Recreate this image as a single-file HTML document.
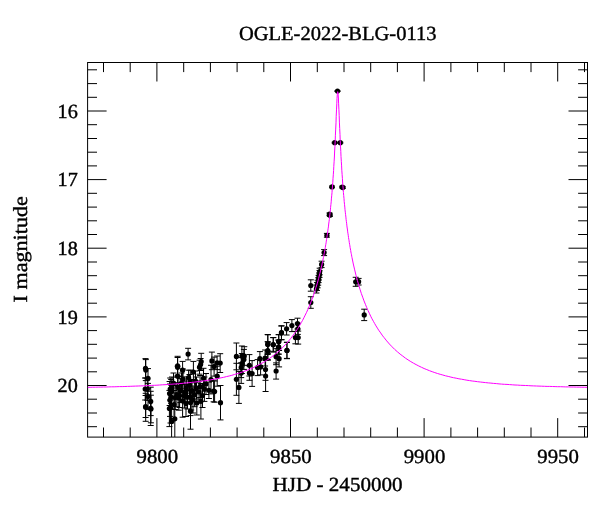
<!DOCTYPE html>
<html><head><meta charset="utf-8"><title>OGLE-2022-BLG-0113</title>
<style>html,body{margin:0;padding:0;background:#fff}svg{display:block;will-change:transform}text{text-rendering:geometricPrecision}</style></head>
<body>
<svg width="600" height="512" viewBox="0 0 600 512">
<rect width="600" height="512" fill="#fff"/>
<defs><clipPath id="c"><rect x="87.6" y="62.5" width="499.9" height="374.6"/></clipPath></defs>
<path d="M103.5 437.1v-9.6M103.5 62.5v9.6M130.2 437.1v-9.6M130.2 62.5v9.6M156.9 437.1v-19M156.9 62.5v19M183.7 437.1v-9.6M183.7 62.5v9.6M210.4 437.1v-9.6M210.4 62.5v9.6M237.1 437.1v-9.6M237.1 62.5v9.6M263.8 437.1v-9.6M263.8 62.5v9.6M290.5 437.1v-19M290.5 62.5v19M317.3 437.1v-9.6M317.3 62.5v9.6M344 437.1v-9.6M344 62.5v9.6M370.7 437.1v-9.6M370.7 62.5v9.6M397.4 437.1v-9.6M397.4 62.5v9.6M424.1 437.1v-19M424.1 62.5v19M450.9 437.1v-9.6M450.9 62.5v9.6M477.6 437.1v-9.6M477.6 62.5v9.6M504.3 437.1v-9.6M504.3 62.5v9.6M531 437.1v-9.6M531 62.5v9.6M557.7 437.1v-19M557.7 62.5v19M584.5 437.1v-9.6M584.5 62.5v9.6M87.6 69.8h9.4M587.5 69.8h-9.4M87.6 83.6h9.4M587.5 83.6h-9.4M87.6 97.3h9.4M587.5 97.3h-9.4M87.6 111h19M587.5 111h-19M87.6 124.7h9.4M587.5 124.7h-9.4M87.6 138.5h9.4M587.5 138.5h-9.4M87.6 152.2h9.4M587.5 152.2h-9.4M87.6 165.9h9.4M587.5 165.9h-9.4M87.6 179.6h19M587.5 179.6h-19M87.6 193.3h9.4M587.5 193.3h-9.4M87.6 207.1h9.4M587.5 207.1h-9.4M87.6 220.8h9.4M587.5 220.8h-9.4M87.6 234.5h9.4M587.5 234.5h-9.4M87.6 248.2h19M587.5 248.2h-19M87.6 262h9.4M587.5 262h-9.4M87.6 275.7h9.4M587.5 275.7h-9.4M87.6 289.4h9.4M587.5 289.4h-9.4M87.6 303.2h9.4M587.5 303.2h-9.4M87.6 316.9h19M587.5 316.9h-19M87.6 330.6h9.4M587.5 330.6h-9.4M87.6 344.3h9.4M587.5 344.3h-9.4M87.6 358.1h9.4M587.5 358.1h-9.4M87.6 371.8h9.4M587.5 371.8h-9.4M87.6 385.5h19M587.5 385.5h-19M87.6 399.2h9.4M587.5 399.2h-9.4M87.6 413h9.4M587.5 413h-9.4M87.6 426.7h9.4M587.5 426.7h-9.4" stroke="#000" stroke-width="1" fill="none"/>
<rect x="87.6" y="62.5" width="499.9" height="374.6" fill="none" stroke="#000" stroke-width="1"/>
<g clip-path="url(#c)"><path d="M145.5 358.6V378M142.5 358.6h6M142.5 378h6M145.8 359.6V380.6M142.8 359.6h6M142.8 380.6h6M148 368.6V388.2M145 368.6h6M145 388.2h6M145.2 378V400M142.2 378h6M142.2 400h6M147.3 378.3V400.3M144.3 378.3h6M144.3 400.3h6M148 383.4V409.4M145 383.4h6M145 409.4h6M150.7 387.2V415.6M147.7 387.2h6M147.7 415.6h6M145.6 395.5V417.5M142.6 395.5h6M142.6 417.5h6M145.7 393.3V421.3M142.7 393.3h6M142.7 421.3h6M150.7 391.3V425.5M147.7 391.3h6M147.7 425.5h6M150.9 395.2V422.8M147.9 395.2h6M147.9 422.8h6M188.1 348.3V359.9M185.1 348.3h6M185.1 359.9h6M177.6 356.3V375.3M174.6 356.3h6M174.6 375.3h6M177.6 357.5V377.1M174.6 357.5h6M174.6 377.1h6M182.6 361.4V379M179.6 361.4h6M179.6 379h6M201.2 353.3V369.9M198.2 353.3h6M198.2 369.9h6M200.6 358.5V370.5M197.6 358.5h6M197.6 370.5h6M199.5 360.2V374.2M196.5 360.2h6M196.5 374.2h6M193.4 361.4V382.6M190.4 361.4h6M190.4 382.6h6M211.9 352.1V369.7M208.9 352.1h6M208.9 369.7h6M220.2 353.7V372.5M217.2 353.7h6M217.2 372.5h6M217.1 356V369.6M214.1 356h6M214.1 369.6h6M214.1 357.1V376.1M211.1 357.1h6M211.1 376.1h6M217.2 366.2V386.2M214.2 366.2h6M214.2 386.2h6M177.6 366.2V386.2M174.6 366.2h6M174.6 386.2h6M188.6 370.2V385M185.6 370.2h6M185.6 385h6M190.3 370.2V391.8M187.3 370.2h6M187.3 391.8h6M203.5 368.3V388.3M200.5 368.3h6M200.5 388.3h6M211 365.3V393.9M208 365.3h6M208 393.9h6M170.2 378V400M167.2 378h6M167.2 400h6M171.2 379.5V403.5M168.2 379.5h6M168.2 403.5h6M169.6 381.5V405.5M166.6 381.5h6M166.6 405.5h6M172 377V399M169 377h6M169 399h6M214.6 381V402.2M211.6 381h6M211.6 402.2h6M208.9 382.1V398.5M205.9 382.1h6M205.9 398.5h6M220.5 385.5V419.9M217.5 385.5h6M217.5 419.9h6M170 384V416.4M167 384h6M167 416.4h6M170.5 392.6V423M167.5 392.6h6M167.5 423h6M169.4 390.4V426.6M166.4 390.4h6M166.4 426.6h6M194.6 382.7V406.7M191.6 382.7h6M191.6 406.7h6M182.6 384.4V417.2M179.6 384.4h6M179.6 417.2h6M200.9 383.4V419M197.9 383.4h6M197.9 419h6M176.9 382.7V406.7M173.9 382.7h6M173.9 406.7h6M190.5 389.6V415.6M187.5 389.6h6M187.5 415.6h6M200.1 375.5V397.5M197.1 375.5h6M197.1 397.5h6M186.4 376.9V398.9M183.4 376.9h6M183.4 398.9h6M180.3 378.6V402.6M177.3 378.6h6M177.3 402.6h6M204.4 377V401.4M201.4 377h6M201.4 401.4h6M190.5 393.2V429.2M187.5 393.2h6M187.5 429.2h6M174.8 396.8V440.8M171.8 396.8h6M171.8 440.8h6M171.6 397.5V445.5M168.6 397.5h6M168.6 445.5h6M213.6 380.2V401.8M210.6 380.2h6M210.6 401.8h6M179.6 383.5V407.5M176.6 383.5h6M176.6 407.5h6M191.2 386V410M188.2 386h6M188.2 410h6M184.4 384V408M181.4 384h6M181.4 408h6M173.5 373V393M170.5 373h6M170.5 393h6M175.2 385.5V409.5M172.2 385.5h6M172.2 409.5h6M178.8 385.8V410.2M175.8 385.8h6M175.8 410.2h6M181.5 373V393M178.5 373h6M178.5 393h6M185 381V403M182 381h6M182 403h6M187.5 385V409M184.5 385h6M184.5 409h6M189.5 374.5V395.5M186.5 374.5h6M186.5 395.5h6M192 379.5V401.5M189 379.5h6M189 401.5h6M196.5 377V399M193.5 377h6M193.5 399h6M196.8 391V415M193.8 391h6M193.8 415h6M195.5 371V391M192.5 371h6M192.5 391h6M206 373.5V394.5M203 373.5h6M203 394.5h6M199 381V403M196 381h6M196 403h6M202.5 383.5V407.5M199.5 383.5h6M199.5 407.5h6M183 369V389M180 369h6M180 389h6M174 390.5V418.5M171 390.5h6M171 418.5h6M186 390.5V416.5M183 390.5h6M183 416.5h6M193 387V413M190 387h6M190 413h6M171 385V409M168 385h6M168 409h6M178 376.5V398.5M175 376.5h6M175 398.5h6M236.4 343V369.8M233.4 343h6M233.4 369.8h6M241.9 346V366M238.9 346h6M238.9 366h6M244.3 346.7V365.3M241.3 346.7h6M241.3 365.3h6M243.9 349.4V369.4M240.9 349.4h6M240.9 369.4h6M241.9 353.5V373.5M238.9 353.5h6M238.9 373.5h6M241.2 357.6V377.6M238.2 357.6h6M238.2 377.6h6M241.2 362.8V383.4M238.2 362.8h6M238.2 383.4h6M236.4 363.3V395.3M233.4 363.3h6M233.4 395.3h6M238.9 371.4V403.4M235.9 371.4h6M235.9 403.4h6M249.4 354.6V376M246.4 354.6h6M246.4 376h6M249.4 365.9V380.3M246.4 365.9h6M246.4 380.3h6M252.1 360.6V386.4M249.1 360.6h6M249.1 386.4h6M259.9 351.6V365.8M256.9 351.6h6M256.9 365.8h6M257.6 359.6V375.6M254.6 359.6h6M254.6 375.6h6M260.6 358.9V374.9M257.6 358.9h6M257.6 374.9h6M265.1 350V366M262.1 350h6M262.1 366h6M265.5 358.9V380.3M262.5 358.9h6M262.5 380.3h6M265.6 360.5V391.5M262.6 360.5h6M262.6 391.5h6M267.9 334.8V353.4M264.9 334.8h6M264.9 353.4h6M267.9 342.2V360.2M264.9 342.2h6M264.9 360.2h6M273.3 337.5V352.1M270.3 337.5h6M270.3 352.1h6M278.8 334.6V348.6M275.8 334.6h6M275.8 348.6h6M278.5 340.1V354.1M275.5 340.1h6M275.5 354.1h6M281.5 325.7V339.7M278.5 325.7h6M278.5 339.7h6M276.1 348.7V364.7M273.1 348.7h6M273.1 364.7h6M279.1 350.5V366.9M276.1 350.5h6M276.1 366.9h6M276.1 362.9V379.1M273.1 362.9h6M273.1 379.1h6M287 342.3V358.7M284 342.3h6M284 358.7h6M310.8 296.7V308.3M307.8 296.7h6M307.8 308.3h6M310.8 279.8V291.2M307.8 279.8h6M307.8 291.2h6M297.5 318.2V329M294.5 318.2h6M294.5 329h6M297.8 323.2V334.4M294.8 323.2h6M294.8 334.4h6M291.9 319.6V331.6M288.9 319.6h6M288.9 331.6h6M286.6 322.6V335M283.6 322.6h6M283.6 335h6M281.4 326.1V339.7M278.4 326.1h6M278.4 339.7h6M295.4 331.4V343.8M292.4 331.4h6M292.4 343.8h6M298.2 331.1V344.1M295.2 331.1h6M295.2 344.1h6M278.7 334.7V348.7M275.7 334.7h6M275.7 348.7h6M273.2 337.7V351.3M270.2 337.7h6M270.2 351.3h6M267.7 334.5V354.5M264.7 334.5h6M264.7 354.5h6M278.7 340.2V354.2M275.7 340.2h6M275.7 354.2h6M267.7 341.6V359.6M264.7 341.6h6M264.7 359.6h6M286.9 342.4V358.4M283.9 342.4h6M283.9 358.4h6M326.9 233.4V237.2M323.9 233.4h6M323.9 237.2h6M324.1 249.6V255.6M321.1 249.6h6M321.1 255.6h6M321.6 261.2V267.6M318.6 261.2h6M318.6 267.6h6M319.7 268.2V274.8M316.7 268.2h6M316.7 274.8h6M319.5 270.6V277.4M316.5 270.6h6M316.5 277.4h6M319 273V280M316 273h6M316 280h6M318.6 275.4V282.6M315.6 275.4h6M315.6 282.6h6M318.2 277.8V285.2M315.2 277.8h6M315.2 285.2h6M317.6 280.2V287.8M314.6 280.2h6M314.6 287.8h6M317 282.6V290.4M314 282.6h6M314 290.4h6M316.4 285V293M313.4 285h6M313.4 293h6M329.5 213V215.4M326.5 213h6M326.5 215.4h6M329.9 214V216.4M326.9 214h6M326.9 216.4h6M332 186.1V187.7M329 186.1h6M329 187.7h6M342.2 186.2V187.8M339.2 186.2h6M339.2 187.8h6M342.8 186.8V188.4M339.8 186.8h6M339.8 188.4h6M334.7 142.2V143.2M331.7 142.2h6M331.7 143.2h6M340.3 142.2V143.2M337.3 142.2h6M337.3 143.2h6M337.5 90.7V91.5M334.5 90.7h6M334.5 91.5h6M355.7 277.3V286.3M352.7 277.3h6M352.7 286.3h6M358.6 278.4V285M355.6 278.4h6M355.6 285h6M364.2 309.2V320.6M361.2 309.2h6M361.2 320.6h6" stroke="#000" stroke-width="1" fill="none"/>
<g fill="#000"><circle cx="145.5" cy="368.3" r="2.6"/><circle cx="145.8" cy="370.1" r="2.6"/><circle cx="148" cy="378.4" r="2.6"/><circle cx="145.2" cy="389" r="2.6"/><circle cx="147.3" cy="389.3" r="2.6"/><circle cx="148" cy="396.4" r="2.6"/><circle cx="150.7" cy="401.4" r="2.6"/><circle cx="145.6" cy="406.5" r="2.6"/><circle cx="145.7" cy="407.3" r="2.6"/><circle cx="150.7" cy="408.4" r="2.6"/><circle cx="150.9" cy="409" r="2.6"/><circle cx="188.1" cy="354.1" r="2.6"/><circle cx="177.6" cy="365.8" r="2.6"/><circle cx="177.6" cy="367.3" r="2.6"/><circle cx="182.6" cy="370.2" r="2.6"/><circle cx="201.2" cy="361.6" r="2.6"/><circle cx="200.6" cy="364.5" r="2.6"/><circle cx="199.5" cy="367.2" r="2.6"/><circle cx="193.4" cy="372" r="2.6"/><circle cx="211.9" cy="360.9" r="2.6"/><circle cx="220.2" cy="363.1" r="2.6"/><circle cx="217.1" cy="362.8" r="2.6"/><circle cx="214.1" cy="366.6" r="2.6"/><circle cx="217.2" cy="376.2" r="2.6"/><circle cx="177.6" cy="376.2" r="2.6"/><circle cx="188.6" cy="377.6" r="2.6"/><circle cx="190.3" cy="381" r="2.6"/><circle cx="203.5" cy="378.3" r="2.6"/><circle cx="211" cy="379.6" r="2.6"/><circle cx="170.2" cy="389" r="2.6"/><circle cx="171.2" cy="391.5" r="2.6"/><circle cx="169.6" cy="393.5" r="2.6"/><circle cx="172" cy="388" r="2.6"/><circle cx="214.6" cy="391.6" r="2.6"/><circle cx="208.9" cy="390.3" r="2.6"/><circle cx="220.5" cy="402.7" r="2.6"/><circle cx="170" cy="400.2" r="2.6"/><circle cx="170.5" cy="407.8" r="2.6"/><circle cx="169.4" cy="408.5" r="2.6"/><circle cx="194.6" cy="394.7" r="2.6"/><circle cx="182.6" cy="400.8" r="2.6"/><circle cx="200.9" cy="401.2" r="2.6"/><circle cx="176.9" cy="394.7" r="2.6"/><circle cx="190.5" cy="402.6" r="2.6"/><circle cx="200.1" cy="386.5" r="2.6"/><circle cx="186.4" cy="387.9" r="2.6"/><circle cx="180.3" cy="390.6" r="2.6"/><circle cx="204.4" cy="389.2" r="2.6"/><circle cx="190.5" cy="411.2" r="2.6"/><circle cx="174.8" cy="418.8" r="2.6"/><circle cx="171.6" cy="421.5" r="2.6"/><circle cx="213.6" cy="391" r="2.6"/><circle cx="179.6" cy="395.5" r="2.6"/><circle cx="191.2" cy="398" r="2.6"/><circle cx="184.4" cy="396" r="2.6"/><circle cx="173.5" cy="383" r="2.6"/><circle cx="175.2" cy="397.5" r="2.6"/><circle cx="178.8" cy="398" r="2.6"/><circle cx="181.5" cy="383" r="2.6"/><circle cx="185" cy="392" r="2.6"/><circle cx="187.5" cy="397" r="2.6"/><circle cx="189.5" cy="385" r="2.6"/><circle cx="192" cy="390.5" r="2.6"/><circle cx="196.5" cy="388" r="2.6"/><circle cx="196.8" cy="403" r="2.6"/><circle cx="195.5" cy="381" r="2.6"/><circle cx="206" cy="384" r="2.6"/><circle cx="199" cy="392" r="2.6"/><circle cx="202.5" cy="395.5" r="2.6"/><circle cx="183" cy="379" r="2.6"/><circle cx="174" cy="404.5" r="2.6"/><circle cx="186" cy="403.5" r="2.6"/><circle cx="193" cy="400" r="2.6"/><circle cx="171" cy="397" r="2.6"/><circle cx="178" cy="387.5" r="2.6"/><circle cx="236.4" cy="356.4" r="2.6"/><circle cx="241.9" cy="356" r="2.6"/><circle cx="244.3" cy="356" r="2.6"/><circle cx="243.9" cy="359.4" r="2.6"/><circle cx="241.9" cy="363.5" r="2.6"/><circle cx="241.2" cy="367.6" r="2.6"/><circle cx="241.2" cy="373.1" r="2.6"/><circle cx="236.4" cy="379.3" r="2.6"/><circle cx="238.9" cy="387.4" r="2.6"/><circle cx="249.4" cy="365.3" r="2.6"/><circle cx="249.4" cy="373.1" r="2.6"/><circle cx="252.1" cy="373.5" r="2.6"/><circle cx="259.9" cy="358.7" r="2.6"/><circle cx="257.6" cy="367.6" r="2.6"/><circle cx="260.6" cy="366.9" r="2.6"/><circle cx="265.1" cy="358" r="2.6"/><circle cx="265.5" cy="369.6" r="2.6"/><circle cx="265.6" cy="376" r="2.6"/><circle cx="267.9" cy="344.1" r="2.6"/><circle cx="267.9" cy="351.2" r="2.6"/><circle cx="273.3" cy="344.8" r="2.6"/><circle cx="278.8" cy="341.6" r="2.6"/><circle cx="278.5" cy="347.1" r="2.6"/><circle cx="281.5" cy="332.7" r="2.6"/><circle cx="276.1" cy="356.7" r="2.6"/><circle cx="279.1" cy="358.7" r="2.6"/><circle cx="276.1" cy="371" r="2.6"/><circle cx="287" cy="350.5" r="2.6"/><circle cx="310.8" cy="302.5" r="2.6"/><circle cx="310.8" cy="285.5" r="2.6"/><circle cx="297.5" cy="323.6" r="2.6"/><circle cx="297.8" cy="328.8" r="2.6"/><circle cx="291.9" cy="325.6" r="2.6"/><circle cx="286.6" cy="328.8" r="2.6"/><circle cx="281.4" cy="332.9" r="2.6"/><circle cx="295.4" cy="337.6" r="2.6"/><circle cx="298.2" cy="337.6" r="2.6"/><circle cx="278.7" cy="341.7" r="2.6"/><circle cx="273.2" cy="344.5" r="2.6"/><circle cx="267.7" cy="344.5" r="2.6"/><circle cx="278.7" cy="347.2" r="2.6"/><circle cx="267.7" cy="350.6" r="2.6"/><circle cx="286.9" cy="350.4" r="2.6"/><circle cx="326.9" cy="235.3" r="2.6"/><circle cx="324.1" cy="252.6" r="2.6"/><circle cx="321.6" cy="264.4" r="2.6"/><circle cx="319.7" cy="271.5" r="2.6"/><circle cx="319.5" cy="274" r="2.6"/><circle cx="319" cy="276.5" r="2.6"/><circle cx="318.6" cy="279" r="2.6"/><circle cx="318.2" cy="281.5" r="2.6"/><circle cx="317.6" cy="284" r="2.6"/><circle cx="317" cy="286.5" r="2.6"/><circle cx="316.4" cy="289" r="2.6"/><circle cx="329.5" cy="214.2" r="2.6"/><circle cx="329.9" cy="215.2" r="2.6"/><circle cx="332" cy="186.9" r="2.6"/><circle cx="342.2" cy="187" r="2.6"/><circle cx="342.8" cy="187.6" r="2.6"/><circle cx="334.7" cy="142.7" r="2.6"/><circle cx="340.3" cy="142.7" r="2.6"/><circle cx="337.5" cy="91.1" r="2.6"/><circle cx="355.7" cy="281.8" r="2.6"/><circle cx="358.6" cy="281.7" r="2.6"/><circle cx="364.2" cy="314.9" r="2.6"/></g>
<path d="M87.5 387.3 L90.1 387.3 L92.8 387.2 L95.5 387.2 L98.2 387.1 L100.8 387.1 L103.5 387 L106.2 387 L108.8 386.9 L111.5 386.8 L114.2 386.8 L116.9 386.7 L119.5 386.6 L122.2 386.6 L124.9 386.5 L127.5 386.4 L130.2 386.3 L132.9 386.2 L135.6 386.1 L138.2 386 L140.9 385.9 L143.6 385.8 L146.3 385.7 L148.9 385.6 L151.6 385.4 L154.3 385.3 L156.9 385.2 L159.6 385 L162.3 384.8 L165 384.7 L167.6 384.5 L170.3 384.3 L173 384.1 L175.6 383.9 L178.3 383.7 L181 383.5 L183.7 383.2 L186.3 383 L189 382.7 L191.7 382.4 L194.3 382.1 L197 381.8 L199.7 381.4 L202.4 381.1 L205 380.7 L207.7 380.3 L210.4 379.9 L213.1 379.4 L215.7 378.9 L218.4 378.4 L221.1 377.8 L223.7 377.3 L226.4 376.6 L229.1 376 L231.8 375.3 L234.4 374.5 L237.1 373.7 L239.8 372.9 L242.4 372 L245.1 371 L247.8 370 L250.5 368.9 L253.1 367.7 L255.8 366.4 L258.5 365.1 L261.1 363.6 L263.8 362.1 L266.5 360.4 L269.2 358.7 L271.8 356.8 L274.5 354.7 L277.2 352.5 L279.9 350.2 L282.5 347.6 L285.2 344.9 L287.9 341.9 L290.5 338.7 L291.9 337 L293.2 335.2 L294.5 333.3 L295.9 331.4 L297.2 329.4 L298.6 327.3 L299.9 325.1 L301.2 322.7 L302.6 320.3 L303.9 317.8 L305.2 315.1 L306.6 312.3 L307.9 309.4 L309.2 306.3 L310.6 303 L311.9 299.5 L313.3 295.8 L314.6 291.9 L315.9 287.7 L317.3 283.3 L318.6 278.5 L319.9 273.3 L321.3 267.7 L322.6 261.6 L322.9 260.3 L323.1 259 L323.4 257.7 L323.7 256.3 L323.9 255 L324.2 253.5 L324.5 252.1 L324.7 250.6 L325 249.1 L325.3 247.6 L325.5 246 L325.8 244.4 L326.1 242.8 L326.3 241.1 L326.6 239.4 L326.9 237.6 L327.1 235.8 L327.4 234 L327.7 232.1 L327.9 230.2 L328.2 228.2 L328.5 226.1 L328.7 224 L329 221.8 L329.3 219.6 L329.6 217.3 L329.8 214.9 L330.1 212.5 L330.4 209.9 L330.6 207.3 L330.9 204.6 L331.2 201.8 L331.4 198.9 L331.7 195.8 L332 192.7 L332.2 189.4 L332.5 186 L332.8 182.4 L333 178.7 L333.3 174.8 L333.6 170.6 L333.8 166.3 L334.1 161.8 L334.4 157 L334.6 152 L334.9 146.7 L335.2 141.1 L335.4 135.2 L335.7 129.1 L336 122.8 L336.2 116.3 L336.5 109.9 L336.8 103.8 L337 98.4 L337.3 94.3 L337.6 92.1 L337.7 91.7 L337.8 92 L338.1 94 L338.4 98 L338.6 103.2 L338.9 109.2 L339.2 115.6 L339.4 122.1 L339.7 128.5 L340 134.6 L340.2 140.5 L340.5 146.1 L340.8 151.5 L341 156.5 L341.3 161.3 L341.6 165.9 L341.8 170.2 L342.1 174.3 L342.4 178.3 L342.6 182 L342.9 185.6 L343.2 189.1 L343.4 192.4 L343.7 195.5 L344 198.6 L344.2 201.5 L344.5 204.3 L344.8 207.1 L345 209.7 L345.3 212.2 L345.6 214.7 L345.9 217.1 L346.1 219.4 L346.4 221.6 L346.7 223.8 L346.9 225.9 L347.2 228 L347.5 230 L347.7 231.9 L348 233.8 L348.3 235.7 L348.5 237.5 L348.8 239.2 L349.1 240.9 L349.3 242.6 L349.6 244.3 L349.9 245.9 L350.1 247.4 L350.4 249 L350.7 250.5 L350.9 252 L351.2 253.4 L351.5 254.8 L351.7 256.2 L352 257.6 L353.3 264 L354.7 269.9 L356 275.3 L357.3 280.3 L358.7 285 L360 289.3 L361.3 293.4 L362.7 297.2 L364 300.9 L365.4 304.3 L366.7 307.5 L368 310.5 L369.4 313.4 L370.7 316.2 L372 318.8 L373.4 321.3 L374.7 323.6 L376 325.9 L377.4 328.1 L378.7 330.2 L380.1 332.1 L381.4 334 L382.7 335.9 L384.1 337.6 L386.7 340.9 L389.4 344 L392.1 346.8 L394.7 349.4 L397.4 351.8 L400.1 354.1 L402.8 356.1 L405.4 358.1 L408.1 359.9 L410.8 361.6 L413.5 363.2 L416.1 364.6 L418.8 366 L421.5 367.3 L424.1 368.5 L426.8 369.6 L429.5 370.7 L432.2 371.7 L434.8 372.6 L437.5 373.5 L440.2 374.3 L442.8 375 L445.5 375.8 L448.2 376.4 L450.9 377.1 L453.5 377.7 L456.2 378.2 L458.9 378.8 L461.5 379.2 L464.2 379.7 L466.9 380.2 L469.6 380.6 L472.2 381 L474.9 381.3 L477.6 381.7 L480.3 382 L482.9 382.3 L485.6 382.6 L488.3 382.9 L490.9 383.1 L493.6 383.4 L496.3 383.6 L499 383.9 L501.6 384.1 L504.3 384.3 L507 384.4 L509.6 384.6 L512.3 384.8 L515 385 L517.7 385.1 L520.3 385.3 L523 385.4 L525.7 385.5 L528.3 385.6 L531 385.8 L533.7 385.9 L536.4 386 L539 386.1 L541.7 386.2 L544.4 386.3 L547.1 386.4 L549.7 386.4 L552.4 386.5 L555.1 386.6 L557.7 386.7 L560.4 386.7 L563.1 386.8 L565.8 386.9 L568.4 386.9 L571.1 387 L573.8 387 L576.4 387.1 L579.1 387.1 L581.8 387.2 L584.5 387.2 L587.1 387.3" stroke="#ff00ff" stroke-width="1" fill="none"/></g>
<g font-family="'Liberation Serif', serif" font-size="20" fill="#000" stroke="#000" stroke-width="0.4">
<text x="337.7" y="40.3" text-anchor="middle" textLength="197.5" lengthAdjust="spacingAndGlyphs">OGLE-2022-BLG-0113</text>
<text x="337.6" y="491.3" text-anchor="middle" textLength="130" lengthAdjust="spacingAndGlyphs">HJD - 2450000</text>
<text transform="translate(26.8 249.3) rotate(-90)" text-anchor="middle" textLength="106.2" lengthAdjust="spacingAndGlyphs">I magnitude</text>
<text x="77.8" y="117.8" text-anchor="end" textLength="20.2" lengthAdjust="spacingAndGlyphs">16</text>
<text x="77.8" y="186.4" text-anchor="end" textLength="20.2" lengthAdjust="spacingAndGlyphs">17</text>
<text x="77.8" y="255.1" text-anchor="end" textLength="20.2" lengthAdjust="spacingAndGlyphs">18</text>
<text x="77.8" y="323.7" text-anchor="end" textLength="20.2" lengthAdjust="spacingAndGlyphs">19</text>
<text x="77.8" y="392.3" text-anchor="end" textLength="20.2" lengthAdjust="spacingAndGlyphs">20</text>
<text x="157.3" y="462.8" text-anchor="middle" textLength="41.6" lengthAdjust="spacingAndGlyphs">9800</text>
<text x="290.9" y="462.8" text-anchor="middle" textLength="41.6" lengthAdjust="spacingAndGlyphs">9850</text>
<text x="424.5" y="462.8" text-anchor="middle" textLength="41.6" lengthAdjust="spacingAndGlyphs">9900</text>
<text x="558.1" y="462.8" text-anchor="middle" textLength="41.6" lengthAdjust="spacingAndGlyphs">9950</text>
</g></svg>
</body></html>
